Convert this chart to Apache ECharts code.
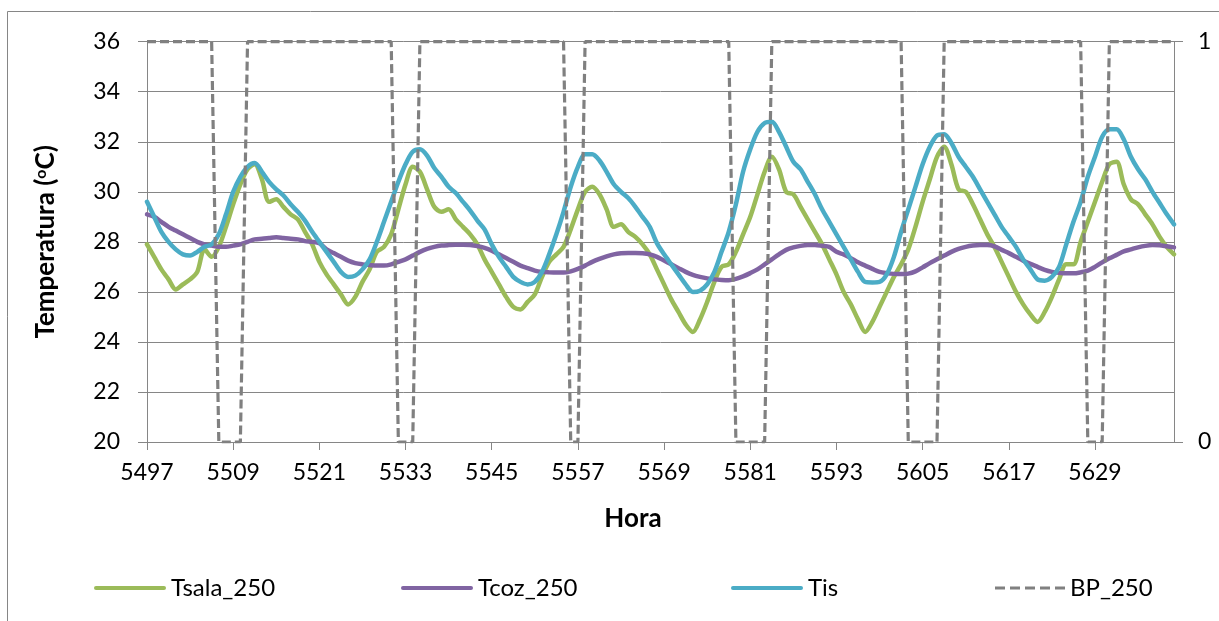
<!DOCTYPE html>
<html>
<head>
<meta charset="utf-8">
<script src="https://cdn.jsdelivr.net/npm/echarts@6/dist/echarts.min.js"></script>
<style>
html,body{margin:0;padding:0;background:#fff;}
#chart{width:1219px;height:621px;}
</style>
</head>
<body>
<div id="chart"></div>
<script>
const hours = [5497,5498,5499,5500,5501,5502,5503,5504,5505,5506,5507,5508,5509,5510,5511,5512,5513,5514,5515,5516,5517,5518,5519,5520,
5521,5522,5523,5524,5525,5526,5527,5528,5529,5530,5531,5532,5533,5534,5535,5536,5537,5538,5539,5540,5541,5542,5543,5544,
5545,5546,5547,5548,5549,5550,5551,5552,5553,5554,5555,5556,5557,5558,5559,5560,5561,5562,5563,5564,5565,5566,5567,5568,
5569,5570,5571,5572,5573,5574,5575,5576,5577,5578,5579,5580,5581,5582,5583,5584,5585,5586,5587,5588,5589,5590,5591,5592,
5593,5594,5595,5596,5597,5598,5599,5600,5601,5602,5603,5604,5605,5606,5607,5608,5609,5610,5611,5612,5613,5614,5615,5616,
5617,5618,5619,5620,5621,5622,5623,5624,5625,5626,5627,5628,5629,5630,5631,5632,5633,5634,5635,5636,5637,5638,5639,5640];

const tsala = [27.9,27.4,26.9,26.5,26.1,26.3,26.5,26.8,27.7,27.4,27.8,28.6,29.5,30.3,30.9,31.1,30.5,29.6,29.7,29.4,29.1,28.9,28.4,27.9,
27.2,26.7,26.3,25.9,25.5,25.8,26.4,26.9,27.6,27.8,28.3,29.3,30.3,31.0,30.8,30.1,29.4,29.2,29.3,28.9,28.6,28.3,27.9,27.3,
26.8,26.3,25.8,25.4,25.3,25.6,25.9,26.6,27.2,27.5,27.8,28.5,29.3,30.0,30.2,29.9,29.3,28.6,28.7,28.4,28.2,27.9,27.5,26.9,
26.3,25.7,25.2,24.7,24.4,24.9,25.6,26.4,27.0,27.1,27.6,28.3,29.0,29.9,30.8,31.4,30.9,30.0,29.9,29.4,28.9,28.4,27.9,27.3,
26.7,26.0,25.5,24.9,24.4,24.8,25.4,26.0,26.6,27.1,27.7,28.6,29.6,30.5,31.4,31.8,31.1,30.1,30.0,29.5,28.9,28.3,27.8,27.2,
26.6,26.0,25.5,25.1,24.8,25.2,25.8,26.5,27.1,27.1,28.0,28.8,29.6,30.4,31.1,31.2,30.3,29.7,29.5,29.1,28.7,28.2,27.8,27.5];

const tcoz = [29.1,29.0,28.8,28.6,28.45,28.3,28.15,28.0,27.9,27.85,27.8,27.8,27.85,27.9,28.0,28.1,28.12,28.15,28.18,28.15,28.12,28.1,28.03,28.0,
27.94,27.7,27.55,27.4,27.25,27.15,27.1,27.07,27.05,27.05,27.1,27.2,27.3,27.45,27.6,27.72,27.8,27.85,27.87,27.88,27.88,27.87,27.83,27.76,
27.65,27.5,27.35,27.2,27.05,26.95,26.85,26.8,26.78,26.77,26.77,26.82,26.92,27.05,27.2,27.32,27.42,27.5,27.54,27.55,27.55,27.54,27.5,27.4,
27.25,27.1,26.95,26.8,26.68,26.6,26.54,26.5,26.48,26.47,26.52,26.62,26.75,26.9,27.1,27.3,27.5,27.68,27.78,27.84,27.87,27.87,27.84,27.8,
27.6,27.5,27.35,27.18,27.05,26.92,26.8,26.75,26.72,26.71,26.73,26.82,26.98,27.15,27.3,27.45,27.6,27.72,27.8,27.85,27.87,27.87,27.82,27.68,
27.55,27.4,27.25,27.12,27.0,26.88,26.8,26.76,26.74,26.74,26.78,26.85,27.0,27.18,27.34,27.48,27.62,27.7,27.78,27.84,27.87,27.86,27.82,27.78];

const tis = [29.6,29.0,28.4,28.0,27.7,27.5,27.45,27.6,27.8,27.9,28.3,29.1,30.0,30.6,31.0,31.15,30.8,30.4,30.1,29.85,29.5,29.2,28.85,28.4,
28.0,27.6,27.2,26.8,26.6,26.65,26.9,27.3,28.0,28.8,29.6,30.4,31.1,31.6,31.7,31.45,30.95,30.6,30.2,29.95,29.6,29.25,28.85,28.5,
27.9,27.4,27.0,26.6,26.4,26.3,26.4,26.8,27.5,28.3,29.2,30.2,31.0,31.5,31.5,31.25,30.8,30.3,30.0,29.75,29.4,29.0,28.6,27.95,
27.5,27.1,26.7,26.3,26.0,26.05,26.3,26.8,27.6,28.4,29.5,30.8,31.7,32.4,32.75,32.8,32.4,31.8,31.2,30.9,30.4,29.9,29.3,28.8,
28.3,27.8,27.3,26.8,26.4,26.38,26.4,26.7,27.4,28.4,29.3,30.2,31.1,31.8,32.25,32.3,31.95,31.4,31.0,30.6,30.1,29.6,29.1,28.6,
28.2,27.8,27.3,26.9,26.5,26.45,26.6,27.0,27.9,28.8,29.6,30.6,31.4,32.2,32.5,32.5,32.1,31.4,30.9,30.5,30.0,29.55,29.1,28.7];

const bp = [1,1,1,1,1,1,1,1,1,1,0,0,0,0,1,1,1,1,1,1,1,1,1,1,
1,1,1,1,1,1,1,1,1,1,1,0,0,0,1,1,1,1,1,1,1,1,1,1,
1,1,1,1,1,1,1,1,1,1,1,0,0,1,1,1,1,1,1,1,1,1,1,1,
1,1,1,1,1,1,1,1,1,1,0,0,0,0,0,1,1,1,1,1,1,1,1,1,
1,1,1,1,1,1,1,1,1,1,0,0,0,0,0,1,1,1,1,1,1,1,1,1,
1,1,1,1,1,1,1,1,1,1,1,0,0,0,1,1,1,1,1,1,1,1,1,1];

const seriesNames = ['Tsala_250','Tcoz_250','Tis','BP_250'];
const leftTicks = [20,36,2];
const rightTicks = [0,1,1];

const FONT = 'Lato';
const GRID = '#868686';
const SOLID_ICON = 'path://M2,0 L70,0 A2,2 0 0 1 70,4 L2,4 A2,2 0 0 1 2,0 Z';
const DASH_ICON = 'path://M0,0h10v3h-10z M15,0h10v3h-10z M30,0h10v3h-10z M45,0h10v3h-10z M60,0h10v3h-10z';
const chart = echarts.init(document.getElementById('chart'), null, {renderer:'canvas'});

function legendAt(name, left, icon, h, w){
  return {
    data:[{name:name, icon:icon}], left:left, top:576, orient:'horizontal', padding:0,
    itemWidth:w, itemHeight:h, itemGap:0,
    textStyle:{fontFamily:FONT, fontSize:24, color:'#000'}
  };
}

chart.setOption({
  animation:false,
  backgroundColor:'#fff',
  graphic:[{type:'rect', shape:{x:7.5,y:11.5,width:1400,height:800}, style:{fill:'none', stroke:GRID, lineWidth:1}, silent:true, z:-10}],
  grid:{left:147, right:45, top:41.7, bottom:179, containLabel:false},
  legend:[legendAt(seriesNames[0],94,SOLID_ICON,5,72), legendAt(seriesNames[1],401,SOLID_ICON,5,72),
          legendAt(seriesNames[2],731,SOLID_ICON,5,72), legendAt(seriesNames[3],995,DASH_ICON,3.5,70)],
  xAxis:{
    type:'category', data:hours, boundaryGap:false,
    name:'Hora', nameLocation:'middle', nameGap:64,
    nameTextStyle:{fontFamily:FONT, fontSize:26, fontWeight:'bold', color:'#000', padding:[0,55,0,0]},
    axisLine:{lineStyle:{color:GRID, width:1}},
    axisTick:{show:true, interval:11, length:8, lineStyle:{color:GRID}},
    axisLabel:{interval:11, margin:19, fontFamily:FONT, fontSize:23, color:'#000'},
    splitLine:{show:false}
  },
  yAxis:[{
    type:'value', min:leftTicks[0], max:leftTicks[1], interval:leftTicks[2],
    name:'Temperatura ({sup|o}C)', nameLocation:'middle', nameGap:88, nameRotate:90,
    nameTextStyle:{fontFamily:FONT, fontSize:26, fontWeight:'bold', color:'#000',
      rich:{sup:{fontFamily:FONT, fontSize:16, fontWeight:'bold', color:'#000', verticalAlign:'top', padding:[0,0,10,0]}}},
    axisLine:{show:true, lineStyle:{color:GRID, width:1}},
    axisTick:{show:true, length:9, lineStyle:{color:GRID}},
    axisLabel:{margin:27, fontFamily:FONT, fontSize:23, color:'#000'},
    splitLine:{show:true, lineStyle:{color:GRID, width:1}}
  },{
    type:'value', min:rightTicks[0], max:rightTicks[1], interval:rightTicks[2], position:'right',
    axisLine:{show:true, lineStyle:{color:GRID, width:1}},
    axisTick:{show:true, length:9, lineStyle:{color:GRID}},
    axisLabel:{margin:24, fontFamily:FONT, fontSize:23, color:'#000'},
    splitLine:{show:false}
  }],
  series:[
    {name:seriesNames[0], type:'line', data:tsala, yAxisIndex:0, symbol:'none', smooth:0.3,
      color:'#9BBB59', lineStyle:{color:'#9BBB59', width:4.5, cap:'round', join:'round'}},
    {name:seriesNames[1], type:'line', data:tcoz, yAxisIndex:0, symbol:'none', smooth:0.3,
      color:'#8064A2', lineStyle:{color:'#8064A2', width:4.5, cap:'round', join:'round'}},
    {name:seriesNames[2], type:'line', data:tis, yAxisIndex:0, symbol:'none', smooth:0.3,
      color:'#4BACC6', lineStyle:{color:'#4BACC6', width:4.5, cap:'round', join:'round'}},
    {name:seriesNames[3], type:'line', data:bp, yAxisIndex:1, symbol:'none', smooth:false,
      color:'#808080', lineStyle:{color:'#808080', width:3.2, type:[9,4]}}
  ]
});
</script>
</body>
</html>
